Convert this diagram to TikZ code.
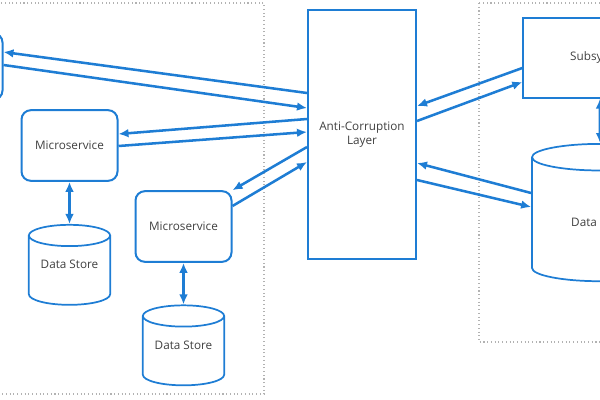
\documentclass[tikz,border=0pt]{standalone}
\usepackage{fontspec}
\setmainfont{Open Sans}
\usetikzlibrary{shapes.geometric,arrows.meta}
\definecolor{msblue}{RGB}{30,125,212}
\definecolor{mstext}{RGB}{64,64,64}
\tikzset{
	svcbox/.style={draw=msblue, line width=1.5pt, rounded corners=7pt, minimum width=72pt, minimum height=53pt, font=\fontsize{8.8}{10.5}\selectfont, text=mstext},
	layerbox/.style={draw=msblue, line width=1.5pt, font=\fontsize{8.8}{10.5}\selectfont, text=mstext, align=center},
	store/.style={cylinder, shape border rotate=90, draw=msblue, line width=1.3pt, aspect=0.4, font=\fontsize{8.8}{10.5}\selectfont, text=mstext},
	smallstore/.style={store, aspect=0.32, minimum width=61pt, minimum height=60pt, text height=6.5pt, text depth=13pt},
	link/.style={draw=msblue, line width=1.9pt, -{Latex[length=7.5pt,width=6.5pt]}},
	both/.style={link, {Latex[length=7.5pt,width=6.5pt]}-{Latex[length=7.5pt,width=6.5pt]}},
	zone/.style={draw=gray!60, line width=0.8pt, dotted},
}
\begin{document}
\begin{tikzpicture}[x=0.75pt, y=-0.75pt]
	\clip (0,0) rectangle (600,400);
	\useasboundingbox (0,0) rectangle (600,400);
	% bounded contexts
	\draw[zone] (-10,3) rectangle (264,394);
	\draw[zone] (479,3) rectangle (710,342);
	% left side services
	\node[svcbox, minimum height=50pt] (tl) at (-45.5,66.5) {};
	\node[svcbox] (ms1) at (69.5,145.5) {Microservice};
	\node[svcbox] (ms2) at (183.5,226.5) {Microservice};
	\node[smallstore] (ds1) at (69.5,273) {Data Store};
	\node[smallstore] (ds2) at (183.5,353.5) {Data Store};
	% the layer
	\node[layerbox, minimum width=81pt, minimum height=187pt] (acl) at (362,134.5) {Anti-Corruption\\Layer};
	% right side
	\node[layerbox, minimum width=115pt, minimum height=60pt] (sub) at (600,57.5) {Subsystem};
	\node[store, minimum width=102pt, minimum height=103pt] (ds3) at (600,222) {Data Store};
	% links to the layer
	\draw[link] (acl.west |- 0,93) -- (tl.east |- 0,52);
	\draw[link] (tl.east |- 0,65) -- (acl.west |- 0,108);
	\draw[link] (acl.west |- 0,119) -- (ms1.east |- 0,134);
	\draw[link] (ms1.east |- 0,146) -- (acl.west |- 0,132);
	\draw[link] (acl.west |- 0,147) -- (ms2.north east);
	\draw[link] (ms2.east |- 0,206) -- (acl.west |- 0,162);
	\draw[link] (sub.west |- 0,68) -- (acl.east |- 0,106);
	\draw[link] (acl.east |- 0,121) -- (sub.west |- 0,82);
	\draw[link] (ds3.west |- 0,193) -- (acl.east |- 0,163);
	\draw[link] (acl.east |- 0,180) -- (ds3.west |- 0,207);
	% data access
	\draw[both] (ms1.south) -- (ds1.north);
	\draw[both] (ms2.south) -- (ds2.north);
	\draw[both] (sub.south) -- (ds3.north);
\end{tikzpicture}
\end{document}
